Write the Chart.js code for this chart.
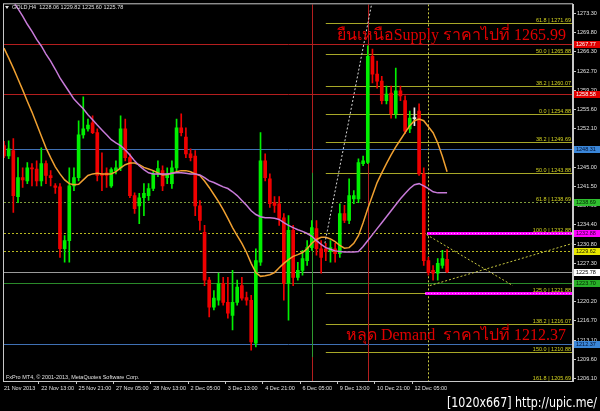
<!DOCTYPE html>
<html>
<head>
<meta charset="utf-8">
<script src="https://cdn.jsdelivr.net/npm/chart.js@4.4.0/dist/chart.umd.min.js"></script>
<style>
  html, body { margin: 0; padding: 0; background: #000; }
  #wrap { width: 600px; height: 411px; }
</style>
</head>
<body>
<div id="wrap"><canvas id="chart" width="600" height="411"></canvas></div>
<script>
// GOLD,H4 candles, one value per bar (oldest first)
const opens = [1249.0, 1247.1, 1248.1, 1239.6, 1243.1, 1242.5, 1244.9, 1244.7, 1242.5, 1245.7,
  1243.5, 1241.6, 1241.4, 1230.0, 1231.5, 1241.6, 1243.1, 1251.0, 1252.1, 1253.2,
  1251.4, 1243.8, 1244.0, 1241.6, 1244.4, 1244.9, 1252.1, 1246.8, 1239.8, 1237.9,
  1239.4, 1239.8, 1241.1, 1243.8, 1244.4, 1243.1, 1242.0, 1244.9, 1252.3, 1250.6,
  1247.5, 1247.1, 1237.9, 1233.0, 1224.2, 1219.2, 1220.5, 1223.6, 1220.1, 1217.7,
  1220.1, 1223.2, 1221.0, 1220.5, 1212.6, 1227.5, 1246.2, 1242.9, 1238.5, 1238.3,
  1235.7, 1223.6, 1233.4, 1224.7, 1226.0, 1227.8, 1230.2, 1233.7, 1230.0, 1230.0,
  1229.5, 1230.0, 1229.1, 1236.5, 1235.2, 1239.2, 1239.2, 1245.7, 1245.9, 1265.5,
  1262.2, 1260.9, 1257.3, 1258.7, 1254.9, 1259.1, 1257.3, 1252.1, 1254.1, 1255.4,
  1243.8, 1227.8, 1226.0, 1225.5, 1226.9, 1228.06];
const highs = [1249.8, 1249.9, 1250.3, 1246.8, 1244.9, 1245.9, 1245.7, 1246.2, 1248.6, 1246.2,
  1244.4, 1242.0, 1242.0, 1232.4, 1244.9, 1244.9, 1253.6, 1258.0, 1253.9, 1254.5,
  1252.1, 1247.7, 1244.9, 1244.9, 1246.2, 1254.5, 1253.9, 1247.5, 1240.3, 1240.2,
  1242.0, 1242.0, 1244.4, 1246.2, 1245.3, 1244.9, 1246.2, 1253.9, 1254.9, 1252.3,
  1248.4, 1248.1, 1238.9, 1234.3, 1224.7, 1222.3, 1225.5, 1224.7, 1224.7, 1226.0,
  1224.2, 1224.7, 1222.0, 1221.4, 1230.0, 1251.4, 1247.5, 1243.8, 1239.6, 1239.6,
  1236.5, 1236.1, 1234.3, 1227.5, 1229.7, 1231.5, 1235.2, 1235.2, 1231.5, 1231.0,
  1231.5, 1231.0, 1238.3, 1238.0, 1242.9, 1240.7, 1246.6, 1247.1, 1267.4, 1266.8,
  1264.6, 1261.8, 1260.0, 1260.0, 1263.3, 1260.0, 1258.2, 1255.4, 1256.0, 1256.7,
  1244.9, 1228.4, 1226.9, 1228.2, 1229.7, 1229.82];
const lows = [1246.8, 1246.6, 1236.7, 1238.5, 1241.3, 1242.0, 1241.6, 1241.6, 1241.6, 1242.0,
  1241.6, 1240.2, 1228.4, 1227.5, 1227.5, 1240.7, 1242.5, 1250.4, 1251.7, 1251.2,
  1242.5, 1240.7, 1241.3, 1241.3, 1243.8, 1244.4, 1246.2, 1239.4, 1236.5, 1234.6,
  1236.1, 1238.9, 1240.7, 1243.3, 1240.7, 1242.0, 1241.1, 1244.4, 1250.8, 1246.8,
  1246.2, 1236.1, 1233.4, 1223.2, 1217.4, 1218.7, 1219.6, 1219.6, 1217.2, 1215.0,
  1219.6, 1220.5, 1219.6, 1211.3, 1211.9, 1226.9, 1242.5, 1237.6, 1236.7, 1234.3,
  1220.5, 1216.8, 1223.2, 1224.2, 1225.1, 1226.9, 1229.7, 1228.8, 1225.5, 1227.8,
  1227.5, 1227.5, 1228.4, 1234.8, 1234.6, 1238.3, 1238.5, 1245.3, 1245.7, 1260.6,
  1259.6, 1256.7, 1256.7, 1254.1, 1254.1, 1257.3, 1251.2, 1251.4, 1252.7, 1243.5,
  1226.9, 1225.1, 1224.2, 1224.2, 1226.4, 1225.60];
const closes = [1247.1, 1248.4, 1239.8, 1243.1, 1242.7, 1244.9, 1244.7, 1242.5, 1245.7, 1243.5,
  1243.1, 1241.3, 1230.0, 1231.5, 1241.6, 1243.1, 1251.0, 1252.1, 1252.8, 1251.4,
  1243.5, 1243.5, 1243.5, 1244.6, 1244.9, 1252.1, 1246.8, 1239.8, 1237.4, 1239.4,
  1240.2, 1241.1, 1243.8, 1244.8, 1241.6, 1243.8, 1244.9, 1252.3, 1251.4, 1247.5,
  1246.8, 1237.9, 1235.2, 1224.2, 1219.2, 1220.9, 1223.6, 1220.1, 1218.1, 1220.1,
  1222.9, 1220.9, 1220.5, 1212.8, 1227.8, 1246.2, 1243.1, 1238.3, 1238.0, 1235.6,
  1223.6, 1233.4, 1224.7, 1226.0, 1228.2, 1230.2, 1233.9, 1230.0, 1228.4, 1229.5,
  1230.2, 1229.1, 1236.5, 1235.2, 1239.8, 1239.8, 1245.9, 1246.2, 1265.5, 1262.2,
  1260.9, 1257.3, 1258.5, 1254.9, 1259.1, 1258.2, 1251.7, 1254.1, 1254.0, 1243.8,
  1227.8, 1225.6, 1225.5, 1227.3, 1228.2, 1225.78];

// moving averages (orange = fast, orchid = slow)
const maFast = [1267.0, 1265.2, 1263.3, 1261.3, 1259.3, 1257.2, 1255.2, 1253.0, 1250.8, 1248.6,
  1246.8, 1245.1, 1243.8, 1242.7, 1242.0, 1241.8, 1241.9, 1242.7, 1243.5, 1243.8,
  1243.9, 1243.8, 1243.8, 1243.8, 1244.2, 1244.9, 1245.5, 1245.8, 1245.8, 1245.5,
  1245.0, 1244.7, 1244.4, 1244.0, 1243.6, 1243.7, 1243.9, 1244.2, 1244.4, 1244.4,
  1244.2, 1243.8, 1243.5, 1242.5, 1241.3, 1240.0, 1238.7, 1237.2, 1235.6, 1233.9,
  1232.4, 1231.0, 1229.3, 1227.3, 1225.6, 1224.9, 1225.0, 1225.2, 1225.6, 1226.5,
  1227.3, 1228.0, 1228.6, 1228.9, 1229.3, 1230.0, 1231.0, 1231.7, 1232.1, 1232.1,
  1231.8, 1231.3, 1230.6, 1230.1, 1230.2, 1231.0, 1232.4, 1234.8, 1237.4, 1239.8,
  1242.2, 1244.0, 1245.7, 1247.3, 1248.8, 1250.1, 1251.4, 1252.7, 1253.6, 1253.9,
  1253.6, 1252.5, 1251.4, 1249.5, 1247.0, 1244.2];
const maSlow = [1278.6, 1277.1, 1275.6, 1274.3, 1272.9, 1271.4, 1270.1, 1268.6, 1267.4, 1265.9,
  1264.6, 1263.1, 1261.5, 1260.2, 1258.9, 1257.6, 1256.7, 1255.8, 1254.7, 1253.8,
  1252.8, 1251.9, 1251.0, 1250.1, 1249.5, 1249.0, 1248.2, 1247.3, 1246.2, 1245.3,
  1244.6, 1244.0, 1243.8, 1243.8, 1243.8, 1243.8, 1243.9, 1244.0, 1244.0, 1243.9,
  1243.8, 1243.8, 1243.6, 1243.1, 1242.5, 1242.2, 1241.8, 1241.4, 1241.1, 1240.5,
  1239.8, 1238.9, 1238.0, 1237.0, 1236.3, 1235.9, 1235.7, 1235.7, 1235.6, 1235.4,
  1234.8, 1234.3, 1233.9, 1233.5, 1233.2, 1232.8, 1232.3, 1231.5, 1230.8, 1230.2,
  1229.9, 1229.6, 1229.5, 1229.4, 1229.4, 1229.4, 1229.5, 1230.4, 1231.5, 1232.6,
  1233.7, 1234.8, 1235.9, 1237.0, 1238.1, 1239.2, 1240.2, 1241.1, 1241.8, 1242.0,
  1241.6, 1241.1, 1240.5, 1240.3, 1240.3, 1240.3];

// time axis: a label every 8th bar, empty shift space after the last bar
const dateTicks = ['21 Nov 2013', '22 Nov 13:00', '25 Nov 21:00', '27 Nov 05:00', '28 Nov 13:00',
  '2 Dec 05:00', '3 Dec 13:00', '4 Dec 21:00', '6 Dec 05:00', '9 Dec 13:00', '10 Dec 21:00', '12 Dec 05:00'];
const TICK_EVERY = 8;
const SHIFT_BARS = 27;
const priceTicks = [1273.30, 1269.80, 1266.30, 1262.70, 1259.20, 1255.60, 1252.10, 1248.50, 1245.00,
  1241.50, 1237.90, 1234.40, 1230.80, 1227.30, 1223.80, 1220.20, 1216.70, 1213.10, 1209.60, 1206.10];

// chart objects drawn on top of the price chart
const redLevels = [1267.77, 1258.58];
const blueLevels = [1248.31, 1212.37];
const dottedLevels = [1238.69, 1232.88, 1229.62];
const bidPrice = 1225.78;
const greenLevel = 1223.70;
const fibPrices = [1271.69, 1265.88, 1260.07, 1254.88, 1249.69, 1243.88, 1238.69, 1232.88, 1221.88, 1216.07, 1210.88, 1205.69];
const fibRatios = ['61.8', '50.0', '38.2', '0.0', '38.2', '50.0', '61.8', '100.0', '125.0', '138.2', '150.0', '161.8'];
const FIB_START_BAR = 69;
const zonePrices = [1232.88, 1221.88];
const zoneStartBars = [90.7, 90.3];
const redVerticalBars = [66, 78];
const yellowVerticalBar = 91;
const trendUp = [[68.8, 1231.0], [79.5, 1278.1]];
const yellowTrends = [[[90.6, 1232.6], [109.1, 1223.2]], [[91.3, 1223.2], [122, 1231.0]]];
const axisTags = [
  { price: 1267.77, bg: '#e00000', fg: '#ffffff' },
  { price: 1258.58, bg: '#e00000', fg: '#ffffff' },
  { price: 1248.31, bg: '#3a86d8', fg: '#001030' },
  { price: 1238.69, bg: '#30c030', fg: '#002000' },
  { price: 1232.88, bg: '#ff00ff', fg: '#300030' },
  { price: 1229.62, bg: '#e8e800', fg: '#202000' },
  { price: 1225.78, bg: '#ffffff', fg: '#000000' },
  { price: 1223.70, bg: '#28b028', fg: '#002000' },
  { price: 1212.37, bg: '#3a86d8', fg: '#001030' }
];

const BULL = '#00f000';
const BEAR = '#f00000';
const SMALL_FONT = '5.5px "Liberation Sans", Arial, sans-serif';

const barCount = opens.length;
const labels = [];
for (let i = 0; i < barCount + SHIFT_BARS; i++) {
    labels.push(i % TICK_EVERY === 0 && i / TICK_EVERY < dateTicks.length ? dateTicks[i / TICK_EVERY] : '');
}
const candleColors = opens.map((o, i) => {
    if (Math.abs(closes[i] - o) < 0.2) return '#e8e8e8';
    return closes[i] >= o ? BULL : BEAR;
});
const wickData = lows.map((l, i) => [l, highs[i]]);
const bodyData = opens.map((o, i) => [o, closes[i]]);

function drawHLine(ctx, x0, x1, y, color, dash, width) {
    ctx.save();
    ctx.strokeStyle = color;
    ctx.lineWidth = width || 1;
    ctx.setLineDash(dash || []);
    ctx.beginPath();
    ctx.moveTo(x0, Math.round(y) + 0.5);
    ctx.lineTo(x1, Math.round(y) + 0.5);
    ctx.stroke();
    ctx.restore();
}

function drawVLine(ctx, x, y0, y1, color, dash) {
    ctx.save();
    ctx.strokeStyle = color;
    ctx.lineWidth = 1;
    ctx.setLineDash(dash || []);
    ctx.beginPath();
    ctx.moveTo(Math.round(x) + 0.5, y0);
    ctx.lineTo(Math.round(x) + 0.5, y1);
    ctx.stroke();
    ctx.restore();
}

function drawSegment(ctx, xs, ys, p0, p1, color) {
    ctx.save();
    ctx.strokeStyle = color;
    ctx.lineWidth = 1;
    ctx.setLineDash([2, 2]);
    ctx.beginPath();
    ctx.moveTo(xs.getPixelForValue(p0[0]), ys.getPixelForValue(p0[1]));
    ctx.lineTo(xs.getPixelForValue(p1[0]), ys.getPixelForValue(p1[1]));
    ctx.stroke();
    ctx.restore();
}

const mtObjects = {
    id: 'mtObjects',
    beforeDraw(chart) {
        const ctx = chart.ctx;
        ctx.save();
        ctx.fillStyle = '#000';
        ctx.fillRect(0, 0, chart.width, chart.height);
        ctx.restore();
    },
    beforeDatasetsDraw(chart) {
        const { ctx, chartArea: a, scales: { x, y } } = chart;
        ctx.save();
        ctx.beginPath();
        ctx.rect(a.left, a.top, a.right - a.left, a.bottom - a.top);
        ctx.clip();

        redLevels.forEach(p => drawHLine(ctx, a.left, a.right, y.getPixelForValue(p), '#b41e1e'));
        blueLevels.forEach(p => drawHLine(ctx, a.left, a.right, y.getPixelForValue(p), '#3f70b4'));
        drawHLine(ctx, a.left, a.right, y.getPixelForValue(dottedLevels[0]), '#7f9a3a', [2, 2]);
        drawHLine(ctx, a.left, a.right, y.getPixelForValue(dottedLevels[1]), '#b8b820', [2, 2]);
        drawHLine(ctx, a.left, a.right, y.getPixelForValue(dottedLevels[2]), '#b8b820', [2, 2]);
        drawHLine(ctx, a.left, a.right, y.getPixelForValue(bidPrice), '#9a9a9a');
        drawHLine(ctx, a.left, a.right, y.getPixelForValue(greenLevel), '#2a8a2a');

        const fx = x.getPixelForValue(FIB_START_BAR);
        fibPrices.forEach((p, i) => {
            if (i === 6 || i === 7) return; // these two levels are the dotted lines
            drawHLine(ctx, fx, a.right, y.getPixelForValue(p), '#a8a828');
        });

        redVerticalBars.forEach(b => drawVLine(ctx, x.getPixelForValue(b), a.top, a.bottom, '#b41e1e'));
        drawVLine(ctx, x.getPixelForValue(redVerticalBars[0]), y.getPixelForValue(1244.0), y.getPixelForValue(1210.0), '#2f9a2f');
        drawVLine(ctx, x.getPixelForValue(yellowVerticalBar), a.top, a.bottom, '#c8c840', [2, 2]);
        ctx.restore();
    },
    afterDatasetsDraw(chart) {
        const { ctx, chartArea: a, scales: { x, y } } = chart;
        ctx.save();
        ctx.beginPath();
        ctx.rect(a.left, a.top, a.right - a.left, a.bottom - a.top);
        ctx.clip();

        // supply / demand zones
        zonePrices.forEach((p, i) => {
            const zy = y.getPixelForValue(p);
            const zx = x.getPixelForValue(zoneStartBars[i]);
            drawHLine(ctx, zx, a.right, zy, '#ff00ff', [], 3);
            drawHLine(ctx, zx, a.right, zy, '#ffb0ff', [1, 2], 1);
        });

        drawSegment(ctx, x, y, trendUp[0], trendUp[1], '#d8d8d8');
        yellowTrends.forEach(t => drawSegment(ctx, x, y, t[0], t[1], '#c8c840'));

        // fibonacci level captions
        ctx.font = SMALL_FONT;
        ctx.fillStyle = '#d4d420';
        ctx.textAlign = 'right';
        ctx.textBaseline = 'alphabetic';
        fibPrices.forEach((p, i) => {
            ctx.fillText(fibRatios[i] + ' | ' + p.toFixed(2), a.right - 2, y.getPixelForValue(p) - 1);
        });

        // thai annotations
        ctx.font = '16px "Liberation Serif", "DejaVu Serif", serif';
        ctx.fillStyle = '#e00000';
        ctx.textAlign = 'right';
        ctx.fillText('ยืนเหนือSupply ราคาไปที่ 1265.99', 566, 40, 230);
        ctx.fillText('หลุด Demand  ราคาไปที่ 1212.37', 566, 340, 220);

        // header and footer texts
        ctx.font = SMALL_FONT;
        ctx.fillStyle = '#e0e0e0';
        ctx.textAlign = 'left';
        ctx.textBaseline = 'middle';
        ctx.fillText('GOLD,H4  1228.06 1229.82 1225.60 1225.78', 12, 7.5);
        ctx.fillText('FxPro MT4, © 2001-2013, MetaQuotes Software Corp.', 6, 377);
        ctx.beginPath();
        ctx.moveTo(5, 6);
        ctx.lineTo(9, 6);
        ctx.lineTo(7, 9);
        ctx.closePath();
        ctx.fill();
        ctx.restore();
    },
    afterDraw(chart) {
        const { ctx, chartArea: a, scales: { y } } = chart;
        ctx.save();
        ctx.strokeStyle = '#c8c8c8';
        ctx.lineWidth = 1;
        ctx.strokeRect(a.left - 0.5, a.top - 0.5, a.right - a.left, a.bottom - a.top + 1);

        ctx.font = SMALL_FONT;
        ctx.textBaseline = 'middle';
        ctx.textAlign = 'left';
        axisTags.forEach(t => {
            const ty = y.getPixelForValue(t.price);
            ctx.fillStyle = t.bg;
            ctx.fillRect(a.right + 1, Math.round(ty) - 3, 26, 7);
            ctx.fillStyle = t.fg;
            ctx.fillText(t.price.toFixed(2), a.right + 3, ty + 0.5);
        });

        // image host watermark
        ctx.font = '14px "DejaVu Sans", sans-serif';
        ctx.textAlign = 'left';
        ctx.textBaseline = 'alphabetic';
        ctx.lineWidth = 3;
        ctx.strokeStyle = '#000';
        ctx.strokeText('[1020x667] http://upic.me/', 447, 407, 150);
        ctx.fillStyle = '#ffffff';
        ctx.fillText('[1020x667] http://upic.me/', 447, 407, 150);
        ctx.restore();
    }
};

new Chart(document.getElementById('chart'), {
    type: 'bar',
    data: {
        labels: labels,
        datasets: [
            { type: 'line', data: maSlow, borderColor: '#c77ad8', borderWidth: 1.5, pointRadius: 0, tension: 0, order: 0 },
            { type: 'line', data: maFast, borderColor: '#f0a030', borderWidth: 1.5, pointRadius: 0, tension: 0, order: 0 },
            { data: bodyData, backgroundColor: candleColors, barThickness: 3, minBarLength: 1, grouped: false, order: 1 },
            { data: wickData, backgroundColor: candleColors, barThickness: 1, grouped: false, order: 2 }
        ]
    },
    options: {
        responsive: false,
        animation: false,
        devicePixelRatio: 1,
        layout: { padding: { left: 4, top: 3, right: 0, bottom: 0 } },
        plugins: { legend: { display: false }, tooltip: { enabled: false } },
        scales: {
            x: {
                type: 'category',
                offset: false,
                grid: {
                    drawOnChartArea: false,
                    tickLength: 3,
                    color: c => (c.index % TICK_EVERY === 0 && c.index / TICK_EVERY < dateTicks.length) ? '#c8c8c8' : 'rgba(0,0,0,0)'
                },
                border: { color: '#c8c8c8' },
                ticks: {
                    autoSkip: false, maxRotation: 0, minRotation: 0, align: 'start', padding: 1,
                    color: '#e0e0e0', font: { size: 5.5, family: '"Liberation Sans", Arial, sans-serif' }
                },
                afterFit: s => { s.height = 30; }
            },
            y: {
                type: 'linear',
                position: 'right',
                min: 1205.6,
                max: 1275.08,
                afterBuildTicks: s => { s.ticks = priceTicks.map(v => ({ value: v })); },
                grid: { drawOnChartArea: false, tickLength: 3, color: '#c8c8c8' },
                border: { color: '#c8c8c8' },
                ticks: {
                    padding: 1, color: '#e0e0e0',
                    font: { size: 5.5, family: '"Liberation Sans", Arial, sans-serif' },
                    callback: v => v.toFixed(2)
                },
                afterFit: s => { s.width = 27; }
            }
        }
    },
    plugins: [mtObjects]
});
</script>
</body>
</html>
